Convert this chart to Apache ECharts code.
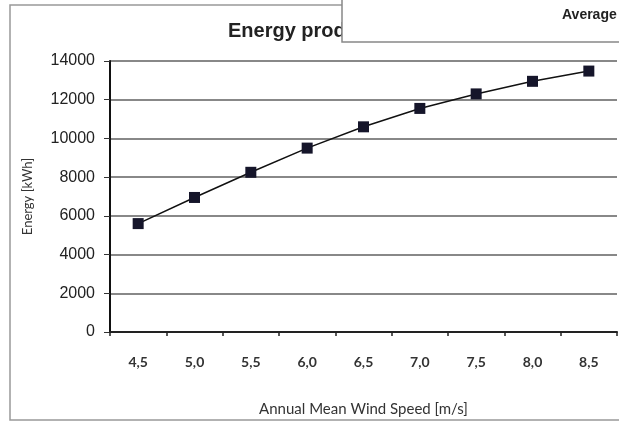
<!DOCTYPE html>
<html><head><meta charset="utf-8">
<script src="https://cdn.jsdelivr.net/npm/echarts@6/dist/echarts.min.js"></script>
<style>html,body{margin:0;padding:0;background:#fff}#c{width:619px;height:423px}</style>
</head><body><div id="c"></div>
<script>
const categories = ['4,5','5,0','5,5','6,0','6,5','7,0','7,5','8,0','8,5'];
const energy = [5600, 6950, 8250, 9500, 10600, 11550, 12300, 12950, 13480];
const yTicks = [0, 2000, 4000, 6000, 8000, 10000, 12000, 14000];

const chart = echarts.init(document.getElementById('c'), null, {renderer:'canvas'});
chart.setOption({
  animation:false,
  backgroundColor:'#fff',
  grid:{left:110, right:2, top:61, bottom:91},
  xAxis:{type:'category', data:categories, boundaryGap:true,
    name:'Annual Mean Wind Speed [m/s]', nameLocation:'middle', nameGap:70,
    nameTextStyle:{color:'#333', fontFamily:'Lato', fontSize:15},
    axisLine:{lineStyle:{color:'#222', width:2}},
    axisTick:{show:true, length:4, lineStyle:{color:'#222', width:1.5}},
    axisLabel:{color:'#333', fontFamily:'Lato', fontWeight:'bold', fontSize:14, margin:23}},
  yAxis:{type:'value', min:yTicks[0], max:yTicks[yTicks.length-1], interval:2000,
    name:'Energy [kWh]', nameLocation:'middle', nameGap:76,
    nameTextStyle:{color:'#333', fontFamily:'Lato', fontSize:13},
    axisLine:{show:true, lineStyle:{color:'#111', width:2}},
    axisTick:{show:true, length:6, lineStyle:{color:'#333'}},
    axisLabel:{color:'#222', fontFamily:'Liberation Sans', fontSize:16, margin:15,
      formatter:function(v){return String(v);}},
    splitLine:{show:true, lineStyle:{color:'#888', width:2}}},
  series:[{type:'line', data:energy, symbol:'rect', symbolSize:11,
    itemStyle:{color:'#15152a'}, lineStyle:{color:'#111', width:1.5}}],
  graphic:[
    {type:'rect', shape:{x:10, y:5, width:640, height:415}, style:{fill:'none', stroke:'#999', lineWidth:1.5}, z:-1},
    {type:'text', left:228, top:21, style:{text:'Energy production', font:'bold 20px "Liberation Sans"', fill:'#222'}, z:50},
    {type:'rect', shape:{x:342, y:-2, width:300, height:44}, style:{fill:'#fff', stroke:'#888', lineWidth:1.5}, z:60},
    {type:'text', left:562, top:8, style:{text:'Average', font:'bold 14px "Liberation Sans"', fill:'#222'}, z:61}
  ]
});
</script></body></html>
